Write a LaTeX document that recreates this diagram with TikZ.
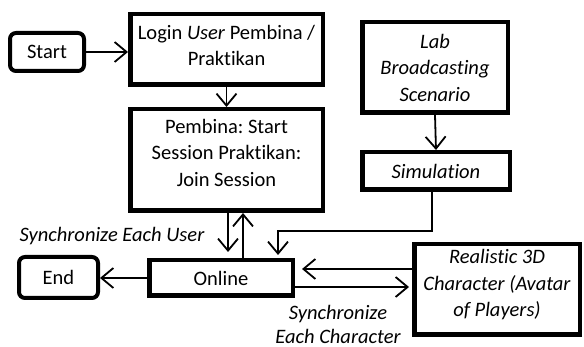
\documentclass[tikz,border=0pt]{standalone}
\usepackage{fontspec}
\setmainfont{Carlito}[Ligatures=NoCommon]
\frenchspacing
\usetikzlibrary{arrows.meta}
\begin{document}
\begin{tikzpicture}[x=1pt,y=-1pt,
 every node/.style={font=\fontsize{20.5}{26.5}\selectfont},
 box/.style={draw, line width=4.5pt, inner sep=0pt, align=center},
 rbox/.style={draw, line width=4pt, rounded corners=6pt, inner sep=0pt},
 txt/.style={align=center, inner sep=0pt},
 lbl/.style={align=center, inner sep=0pt, font=\fontsize{20.5}{24}\selectfont\itshape},
 arr/.style={line width=1.8pt, -{Straight Barb[length=12pt,width=20pt]}}]
\useasboundingbox (0,0) rectangle (584,347);
\node[rbox, minimum width=74pt, minimum height=38pt] (start) at (47,52) {Start};
\node[box, minimum width=192.5pt, minimum height=70.5pt] (login) at (226.5,49.5) {};
\node[txt] (logintxt) at (226.5,45.5) {Login \textit{User} Pembina /\\Praktikan};
\node[box, minimum width=192.5pt, minimum height=101.5pt] (pemb) at (226.5,160) {};
\node[txt] (pembtxt) at (226.5,152.5) {Pembina: Start\\Session Praktikan:\\Join Session};
\node[box, minimum width=145.5pt, minimum height=90.5pt] (lab) at (435,67.5) {\textit{Lab}\\\textit{Broadcasting}\\\textit{Scenario}};
\node[box, minimum width=147.5pt, minimum height=37.5pt] (sim) at (436,171) {\textit{Simulation}};
\node[box, minimum width=143.5pt, minimum height=35.5pt] (online) at (221,278) {Online};
\node[box, minimum width=165.5pt, minimum height=90.5pt] (real) at (497,289.5) {};
\node[txt] (realtxt) at (497,285) {\textit{Realistic 3D}\\\textit{Character (Avatar}\\\textit{of Players)}};
\node[rbox, minimum width=79pt, minimum height=41pt] (end) at (58.5,277.5) {End};
\node[lbl] (sync1) at (112,236) {Synchronize Each User};
\node[lbl] (sync2) at (338,324) {Synchronize\\Each Character};
\draw[arr] (start.east) -- (start.east -| login.west);
\draw[arr] (login.south) -- (pemb.north);
\draw[arr] ([xshift=1.5pt]pemb.south) -- ([xshift=7pt,yshift=6pt]online.north);
\draw[arr] ([xshift=22pt]online.north) -- ([xshift=16.5pt]pemb.south);
\draw[arr] (lab.south) -- (sim.north);
\coordinate (bend) at (278,231);
\draw[arr] ([xshift=-4pt]sim.south) |- (bend) -- ([xshift=57pt,yshift=3pt]online.north);
\coordinate (rin) at ([yshift=20.5pt]real.west);
\draw[arr, shorten >=7pt] (rin) -- (rin -| online.east);
\coordinate (oout) at ([yshift=-9pt]online.east);
\draw[arr, shorten >=3pt] (oout) -- (oout -| real.west);
\draw[arr] (online.west) -- (online.west -| end.east);
\end{tikzpicture}
\end{document}
